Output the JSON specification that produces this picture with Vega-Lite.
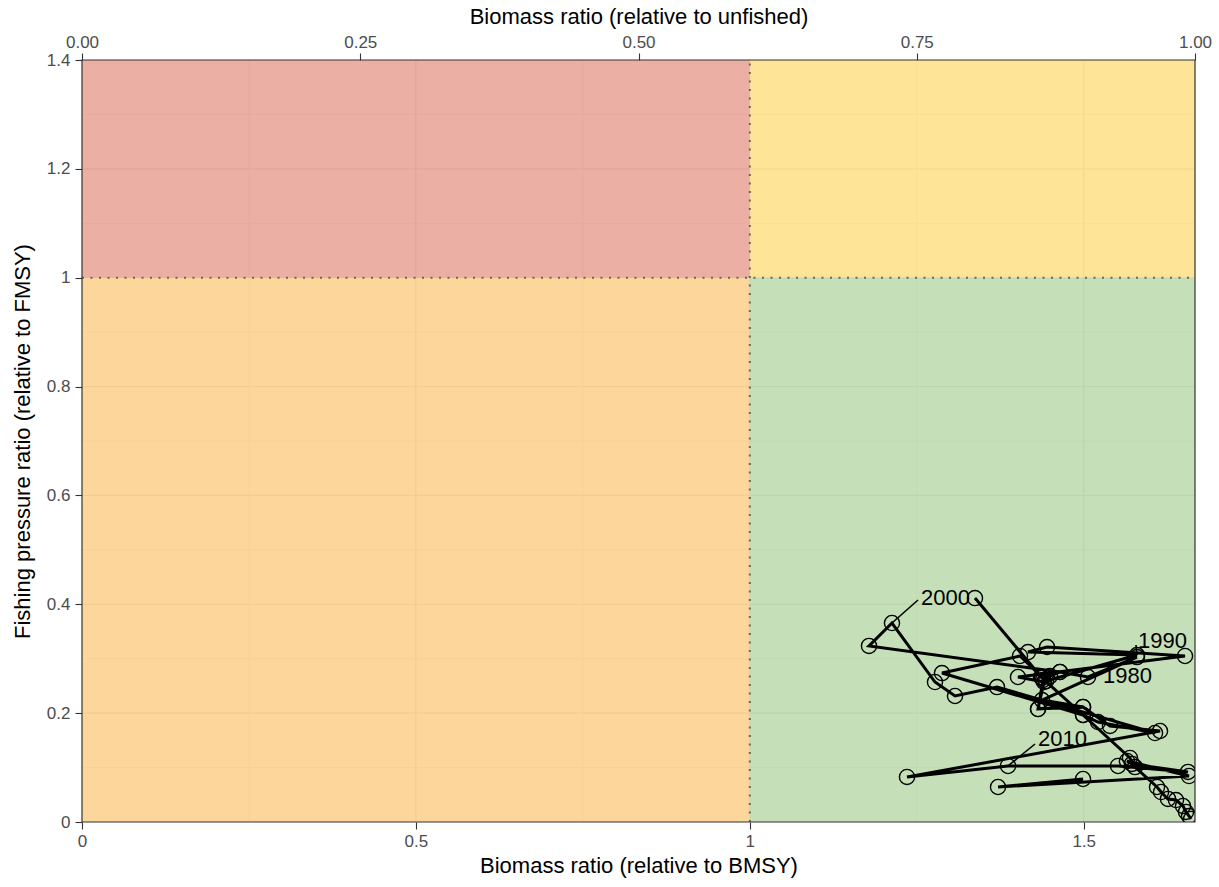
{
  "$schema": "https://vega.github.io/schema/vega-lite/v6.json",
  "width": 1113,
  "height": 762,
  "autosize": {"type": "none"},
  "padding": {"left": 82, "top": 60, "right": 24, "bottom": 65},
  "background": "white",
  "config": {
    "font": "Liberation Sans",
    "view": {"stroke": null},
    "axis": {"labelFont": "Liberation Sans", "titleFont": "Liberation Sans", "labelColor": "#4D4D4D", "labelFontSize": 17, "titleFontSize": 22, "titleFontWeight": "normal", "titleColor": "#000000", "tickColor": "#333333", "tickSize": 7, "tickWidth": 1.1, "domain": false, "grid": false, "labelFlush": false, "labelOverlap": false}
  },
  "datasets": {
    "zones": [
      {"zone": "overfished_overfishing", "bx0": 0, "bx1": 1, "fy0": 1, "fy1": 1.4},
      {"zone": "overfishing", "bx0": 1, "bx1": 1.666667, "fy0": 1, "fy1": 1.4},
      {"zone": "overfished", "bx0": 0, "bx1": 1, "fy0": 0, "fy1": 1},
      {"zone": "healthy", "bx0": 1, "bx1": 1.666667, "fy0": 0, "fy1": 1}
    ],
    "vgrid": [
      {"v": 0.25, "kind": "minor"}, {"v": 0.5, "kind": "major"}, {"v": 0.75, "kind": "minor"}, {"v": 1, "kind": "major"}, {"v": 1.25, "kind": "minor"}, {"v": 1.5, "kind": "major"}
    ],
    "hgrid": [
      {"v": 0.1, "kind": "minor"}, {"v": 0.2, "kind": "major"}, {"v": 0.3, "kind": "minor"}, {"v": 0.4, "kind": "major"}, {"v": 0.5, "kind": "minor"}, {"v": 0.6, "kind": "major"}, {"v": 0.7, "kind": "minor"}, {"v": 0.8, "kind": "major"}, {"v": 0.9, "kind": "minor"}, {"v": 1.0, "kind": "major"}, {"v": 1.1, "kind": "minor"}, {"v": 1.2, "kind": "major"}, {"v": 1.3, "kind": "minor"}
    ],
    "traj": [
      {"year": 1965, "b": 1.6607, "f": 0.0055},
      {"year": 1966, "b": 1.6577, "f": 0.011},
      {"year": 1967, "b": 1.6532, "f": 0.0184},
      {"year": 1968, "b": 1.6487, "f": 0.0294},
      {"year": 1969, "b": 1.6382, "f": 0.0404},
      {"year": 1970, "b": 1.6262, "f": 0.0423},
      {"year": 1971, "b": 1.6158, "f": 0.0551},
      {"year": 1972, "b": 1.6098, "f": 0.0643},
      {"year": 1973, "b": 1.5768, "f": 0.101},
      {"year": 1974, "b": 1.5693, "f": 0.1176},
      {"year": 1975, "b": 1.499, "f": 0.1966},
      {"year": 1976, "b": 1.4376, "f": 0.2646},
      {"year": 1977, "b": 1.3372, "f": 0.4115},
      {"year": 1978, "b": 1.4361, "f": 0.2664},
      {"year": 1979, "b": 1.4645, "f": 0.2756},
      {"year": 1980, "b": 1.5064, "f": 0.2664},
      {"year": 1981, "b": 1.5798, "f": 0.3031},
      {"year": 1982, "b": 1.4376, "f": 0.2241},
      {"year": 1983, "b": 1.499, "f": 0.2113},
      {"year": 1984, "b": 1.4316, "f": 0.2076},
      {"year": 1985, "b": 1.4406, "f": 0.2572},
      {"year": 1986, "b": 1.4016, "f": 0.2664},
      {"year": 1987, "b": 1.6517, "f": 0.305},
      {"year": 1988, "b": 1.4451, "f": 0.3215},
      {"year": 1989, "b": 1.4166, "f": 0.3123},
      {"year": 1990, "b": 1.5798, "f": 0.3068},
      {"year": 1991, "b": 1.4436, "f": 0.259},
      {"year": 1992, "b": 1.4046, "f": 0.305},
      {"year": 1993, "b": 1.2878, "f": 0.2737},
      {"year": 1994, "b": 1.499, "f": 0.1966},
      {"year": 1995, "b": 1.5214, "f": 0.1837},
      {"year": 1996, "b": 1.6068, "f": 0.1635},
      {"year": 1997, "b": 1.3702, "f": 0.248},
      {"year": 1998, "b": 1.3073, "f": 0.2315},
      {"year": 1999, "b": 1.2773, "f": 0.2572},
      {"year": 2000, "b": 1.2129, "f": 0.3656},
      {"year": 2001, "b": 1.1785, "f": 0.3234},
      {"year": 2002, "b": 1.4645, "f": 0.2756},
      {"year": 2003, "b": 1.4495, "f": 0.2682},
      {"year": 2004, "b": 1.4391, "f": 0.2609},
      {"year": 2005, "b": 1.4316, "f": 0.2076},
      {"year": 2006, "b": 1.499, "f": 0.2113},
      {"year": 2007, "b": 1.5394, "f": 0.1764},
      {"year": 2008, "b": 1.6143, "f": 0.1672},
      {"year": 2009, "b": 1.2354, "f": 0.0827},
      {"year": 2010, "b": 1.3867, "f": 0.1029},
      {"year": 2011, "b": 1.5514, "f": 0.1029},
      {"year": 2012, "b": 1.6562, "f": 0.0919},
      {"year": 2013, "b": 1.5723, "f": 0.1066},
      {"year": 2014, "b": 1.5648, "f": 0.1121},
      {"year": 2015, "b": 1.6577, "f": 0.0845},
      {"year": 2016, "b": 1.3717, "f": 0.0643},
      {"year": 2017, "b": 1.499, "f": 0.079}
    ],
    "labels": [
      {"label": "1980", "b": 1.5064, "f": 0.2664, "lb": 1.5259, "lf": 0.2756, "tb": 1.5289, "tf": 0.2682},
      {"label": "1990", "b": 1.5798, "f": 0.3068, "lb": 1.5783, "lf": 0.3252, "tb": 1.5813, "tf": 0.3325},
      {"label": "2000", "b": 1.2129, "f": 0.3656, "lb": 1.2519, "lf": 0.4079, "tb": 1.2564, "tf": 0.4115},
      {"label": "2010", "b": 1.3867, "f": 0.1029, "lb": 1.4271, "lf": 0.1433, "tb": 1.4316, "tf": 0.1525}
    ],
    "refs": [
      {"b0": 0, "b1": 1.666667, "f0": 0, "f1": 1.4}
    ]
  },
  "layer": [
    {
      "layer": [
        {
          "data": {"name": "vgrid"},
          "mark": {"type": "rule", "color": "#EBEBEB"},
          "encoding": {
            "x": {"field": "v", "type": "quantitative", "scale": {"domain": [0, 1.666667], "nice": false, "zero": false}, "axis": {"orient": "bottom", "values": [0, 0.5, 1, 1.5], "format": "~g", "title": "Biomass ratio (relative to BMSY)", "labelPadding": 4, "titlePadding": 6}},
            "strokeWidth": {"field": "kind", "type": "nominal", "scale": {"domain": ["major", "minor"], "range": [1.2, 0.6]}, "legend": null}
          }
        },
        {
          "data": {"name": "hgrid"},
          "mark": {"type": "rule", "color": "#EBEBEB"},
          "encoding": {
            "y": {"field": "v", "type": "quantitative", "scale": {"domain": [0, 1.4], "nice": false, "zero": false}, "axis": {"values": [0, 0.2, 0.4, 0.6, 0.8, 1, 1.2, 1.4], "format": "~g", "title": "Fishing pressure ratio (relative to FMSY)", "labelPadding": 5, "titlePadding": 12}},
            "strokeWidth": {"field": "kind", "type": "nominal", "scale": {"domain": ["major", "minor"], "range": [1.2, 0.6]}, "legend": null}
          }
        },
        {
          "data": {"name": "zones"},
          "mark": {"type": "rect", "opacity": 0.5},
          "encoding": {
            "x": {"field": "bx0", "type": "quantitative"},
            "x2": {"field": "bx1"},
            "y": {"field": "fy0", "type": "quantitative"},
            "y2": {"field": "fy1"},
            "fill": {"field": "zone", "type": "nominal", "scale": {"domain": ["overfished_overfishing", "overfishing", "overfished", "healthy"], "range": ["#D96047", "#FDC92F", "#FBAD37", "#8BBF71"]}, "legend": null}
          }
        },
        {
          "data": {"name": "refs"},
          "mark": {"type": "rule", "color": "#666666", "strokeDash": [2, 6.5], "strokeWidth": 2},
          "encoding": {"x": {"datum": 1, "type": "quantitative"}, "y": {"field": "f0", "type": "quantitative"}, "y2": {"field": "f1"}}
        },
        {
          "data": {"name": "refs"},
          "mark": {"type": "rule", "color": "#666666", "strokeDash": [2, 6.5], "strokeWidth": 2},
          "encoding": {"y": {"datum": 1, "type": "quantitative"}, "x": {"field": "b0", "type": "quantitative"}, "x2": {"field": "b1"}}
        },
        {
          "data": {"name": "traj"},
          "mark": {"type": "line", "color": "black", "strokeWidth": 3, "clip": true},
          "encoding": {
            "x": {"field": "b", "type": "quantitative"},
            "y": {"field": "f", "type": "quantitative"},
            "order": {"field": "year", "type": "quantitative"}
          }
        },
        {
          "data": {"name": "traj"},
          "mark": {"type": "point", "shape": "circle", "filled": false, "color": "black", "strokeWidth": 1.4, "size": 230, "opacity": 1, "clip": true},
          "encoding": {
            "x": {"field": "b", "type": "quantitative"},
            "y": {"field": "f", "type": "quantitative"}
          }
        },
        {
          "data": {"name": "labels"},
          "mark": {"type": "rule", "color": "black", "strokeWidth": 1.6},
          "encoding": {
            "x": {"field": "b", "type": "quantitative"},
            "y": {"field": "f", "type": "quantitative"},
            "x2": {"field": "lb"},
            "y2": {"field": "lf"}
          }
        },
        {
          "data": {"name": "labels"},
          "mark": {"type": "text", "align": "left", "baseline": "middle", "fontSize": 22, "font": "Liberation Sans", "color": "black"},
          "encoding": {
            "x": {"field": "tb", "type": "quantitative"},
            "y": {"field": "tf", "type": "quantitative"},
            "text": {"field": "label", "type": "nominal"}
          }
        },
        {
          "data": {"name": "refs"},
          "mark": {"type": "rect", "fill": null, "fillOpacity": 0, "stroke": "#333333", "strokeWidth": 1.2},
          "encoding": {
            "x": {"field": "b0", "type": "quantitative"},
            "x2": {"field": "b1"},
            "y": {"field": "f0", "type": "quantitative"},
            "y2": {"field": "f1"}
          }
        }
      ]
    },
    {
      "data": {"values": [{"b_unfished": 0}, {"b_unfished": 1}]},
      "mark": {"type": "point", "opacity": 0},
      "encoding": {
        "x": {"field": "b_unfished", "type": "quantitative", "scale": {"domain": [0, 1], "nice": false, "zero": false}, "axis": {"orient": "top", "values": [0, 0.25, 0.5, 0.75, 1], "format": ".2f", "title": "Biomass ratio (relative to unfished)", "labelPadding": 2, "titlePadding": 5}}
      }
    }
  ],
  "resolve": {"scale": {"x": "independent"}}
}
